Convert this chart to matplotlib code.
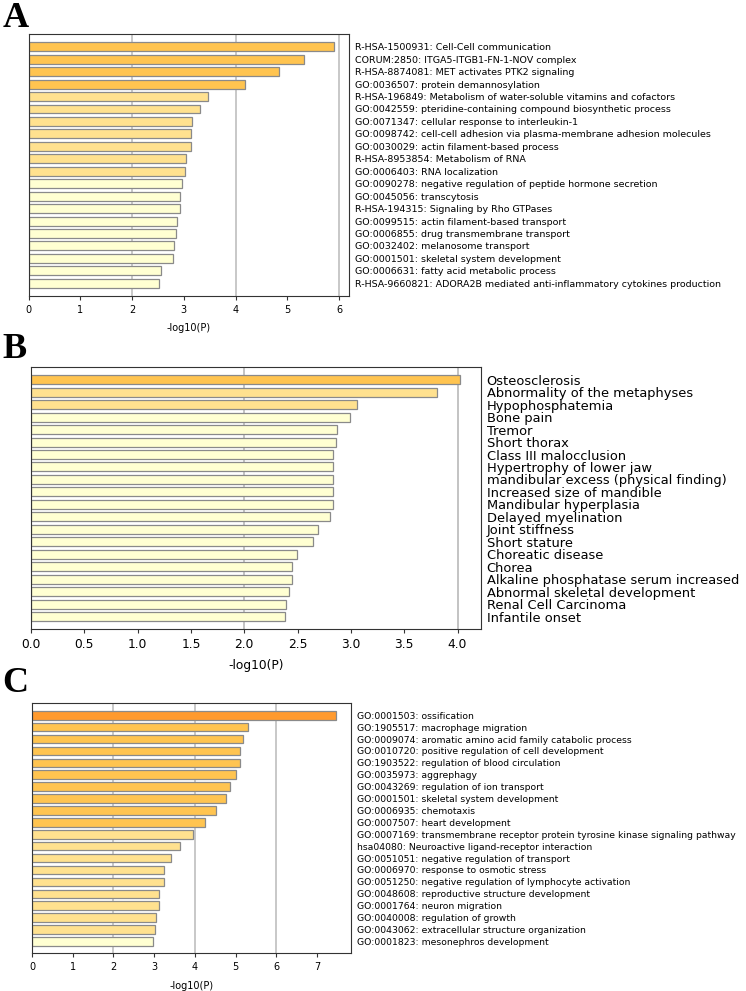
import matplotlib
matplotlib.use("Agg")
import matplotlib.pyplot as plt

# panel A: pathways / GO terms
terms_a = [
    "R-HSA-1500931: Cell-Cell communication",
    "CORUM:2850: ITGA5-ITGB1-FN-1-NOV complex",
    "R-HSA-8874081: MET activates PTK2 signaling",
    "GO:0036507: protein demannosylation",
    "R-HSA-196849: Metabolism of water-soluble vitamins and cofactors",
    "GO:0042559: pteridine-containing compound biosynthetic process",
    "GO:0071347: cellular response to interleukin-1",
    "GO:0098742: cell-cell adhesion via plasma-membrane adhesion molecules",
    "GO:0030029: actin filament-based process",
    "R-HSA-8953854: Metabolism of RNA",
    "GO:0006403: RNA localization",
    "GO:0090278: negative regulation of peptide hormone secretion",
    "GO:0045056: transcytosis",
    "R-HSA-194315: Signaling by Rho GTPases",
    "GO:0099515: actin filament-based transport",
    "GO:0006855: drug transmembrane transport",
    "GO:0032402: melanosome transport",
    "GO:0001501: skeletal system development",
    "GO:0006631: fatty acid metabolic process",
    "R-HSA-9660821: ADORA2B mediated anti-inflammatory cytokines production",
]
logp_a = [5.91, 5.32, 4.83, 4.19, 3.47, 3.31, 3.16, 3.14, 3.13, 3.04,
          3.02, 2.96, 2.93, 2.92, 2.87, 2.84, 2.81, 2.79, 2.56, 2.51]

# panel B: disease / phenotype terms
terms_b = [
    "Osteosclerosis", "Abnormality of the metaphyses", "Hypophosphatemia",
    "Bone pain", "Tremor", "Short thorax", "Class III malocclusion",
    "Hypertrophy of lower jaw", "mandibular excess (physical finding)",
    "Increased size of mandible", "Mandibular hyperplasia",
    "Delayed myelination", "Joint stiffness", "Short stature",
    "Choreatic disease", "Chorea", "Alkaline phosphatase serum increased",
    "Abnormal skeletal development", "Renal Cell Carcinoma", "Infantile onset",
]
logp_b = [4.02, 3.81, 3.06, 2.99, 2.87, 2.86, 2.83, 2.83, 2.83, 2.83,
          2.83, 2.80, 2.69, 2.64, 2.49, 2.45, 2.45, 2.42, 2.39, 2.38]

# panel C
terms_c = [
    "GO:0001503: ossification",
    "GO:1905517: macrophage migration",
    "GO:0009074: aromatic amino acid family catabolic process",
    "GO:0010720: positive regulation of cell development",
    "GO:1903522: regulation of blood circulation",
    "GO:0035973: aggrephagy",
    "GO:0043269: regulation of ion transport",
    "GO:0001501: skeletal system development",
    "GO:0006935: chemotaxis",
    "GO:0007507: heart development",
    "GO:0007169: transmembrane receptor protein tyrosine kinase signaling pathway",
    "hsa04080: Neuroactive ligand-receptor interaction",
    "GO:0051051: negative regulation of transport",
    "GO:0006970: response to osmotic stress",
    "GO:0051250: negative regulation of lymphocyte activation",
    "GO:0048608: reproductive structure development",
    "GO:0001764: neuron migration",
    "GO:0040008: regulation of growth",
    "GO:0043062: extracellular structure organization",
    "GO:0001823: mesonephros development",
]
logp_c = [7.46, 5.29, 5.19, 5.10, 5.10, 5.01, 4.87, 4.77, 4.51, 4.24,
          3.94, 3.64, 3.42, 3.25, 3.24, 3.12, 3.12, 3.05, 3.03, 2.96]


def bar_color(v):
    if v >= 6:
        return "#ff9a2e"
    if v >= 4:
        return "#ffc450"
    if v >= 3:
        return "#ffe18f"
    return "#ffffd2"


def draw(ax, terms, vals, xmax, xticks, label_size, tick_size):
    y = list(range(len(terms)))
    ax.barh(y, vals, height=0.72, color=[bar_color(v) for v in vals],
            edgecolor="#8a8a8a", linewidth=0.9, zorder=2)
    for g in xticks:
        if g > 0 and g % 2 == 0:
            ax.axvline(g, color="#c4c4c4", lw=1.3, zorder=1)
    ax.set_ylim(len(terms), -1)
    ax.set_xlim(0, xmax)
    ax.set_xticks(xticks)
    ax.set_yticks(y)
    ax.set_yticklabels(terms, fontsize=label_size)
    ax.yaxis.tick_right()
    ax.tick_params(axis="y", length=0, pad=4)
    ax.tick_params(axis="x", labelsize=tick_size, length=3, color="#333333")
    for s in ax.spines.values():
        s.set_color("#333333")
        s.set_linewidth(0.8)


fig = plt.figure(figsize=(7.46, 9.91), dpi=100)

ax_a = fig.add_axes([0.0385, 0.7016, 0.4298, 0.2638])
draw(ax_a, terms_a, logp_a, 6.2, [0, 1, 2, 3, 4, 5, 6], 6.8, 7)
ax_a.set_xlabel("-log10(P)", fontsize=7, labelpad=6)

ax_b = fig.add_axes([0.0416, 0.3653, 0.6032, 0.2641])
draw(ax_b, terms_b, logp_b, 4.22, [0, 0.5, 1.0, 1.5, 2.0, 2.5, 3.0, 3.5, 4.0], 9.4, 8.8)
ax_b.set_xticklabels(["0.0", "0.5", "1.0", "1.5", "2.0", "2.5", "3.0", "3.5", "4.0"])
ax_b.axvline(2.0, color="#c4c4c4", lw=1.3, zorder=1)
ax_b.axvline(4.0, color="#c4c4c4", lw=1.3, zorder=1)
ax_b.set_xlabel("-log10(P)", fontsize=8.8, labelpad=6)

ax_c = fig.add_axes([0.0429, 0.038, 0.4276, 0.2523])
draw(ax_c, terms_c, logp_c, 7.83, [0, 1, 2, 3, 4, 5, 6, 7], 6.7, 7)
ax_c.set_xlabel("-log10(P)", fontsize=7, labelpad=6)

for letter, ypos in [("A", 0.998), ("B", 0.664), ("C", 0.327)]:
    fig.text(0.003, ypos, letter, fontsize=26, fontweight="bold",
             family="Liberation Serif", va="top", ha="left")

fig.savefig("out.png", dpi=100, facecolor="white")
